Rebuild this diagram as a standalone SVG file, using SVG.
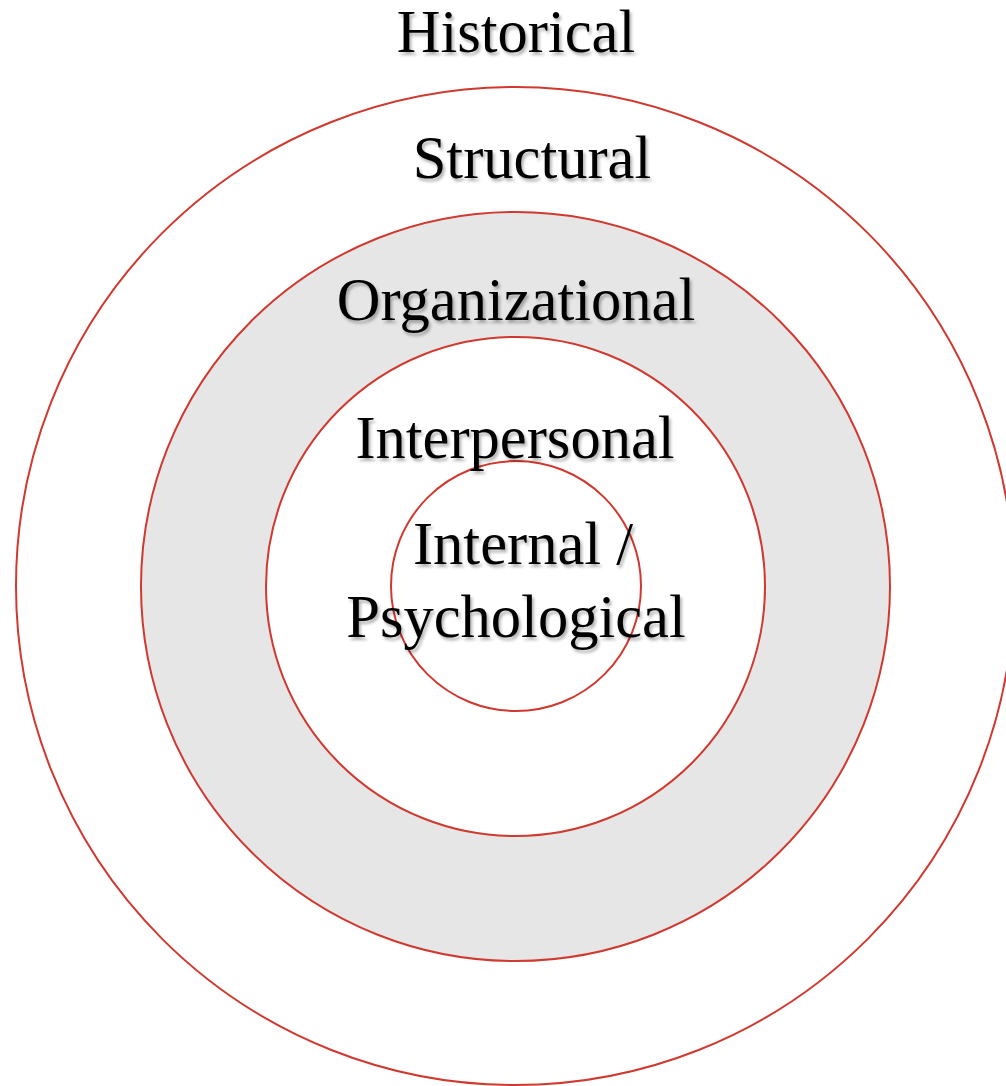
<svg xmlns="http://www.w3.org/2000/svg" width="1006" height="1086" viewBox="0 0 1006 1086">
<defs>
<filter id="sh" x="-10%" y="-20%" width="120%" height="150%">
<feDropShadow dx="2" dy="3" stdDeviation="1.8" flood-color="#000" flood-opacity="0.3"/>
</filter>
</defs>
<style>
.ring{stroke:#d0392f;stroke-width:2}
.lbl{font-family:"Liberation Serif","Times New Roman",serif;font-size:60.5px;fill:#000;text-anchor:middle;filter:url(#sh)}
</style>
<rect width="1006" height="1086" fill="#fff"/>
<g id="historical">
<circle class="ring" cx="515" cy="586" r="499" fill="#fff"/>
</g>
<g id="structural">
<circle class="ring" cx="515.5" cy="586.5" r="374.5" fill="#e6e6e6"/>
</g>
<g id="organizational">
<circle class="ring" cx="515.5" cy="586.5" r="249.5" fill="#fff"/>
</g>
<g id="interpersonal">
<circle class="ring" cx="516" cy="586" r="125" fill="none"/>
</g>
<g id="labels">
<text class="lbl" x="516" y="52">Historical</text>
<text class="lbl" x="532" y="178">Structural</text>
<text class="lbl" x="516" y="320">Organizational</text>
<text class="lbl" x="515" y="458">Interpersonal</text>
<text class="lbl" x="523" y="564">Internal /</text>
<text class="lbl" x="516" y="637">Psychological</text>
</g>
<g id="connectors"/>
</svg>
